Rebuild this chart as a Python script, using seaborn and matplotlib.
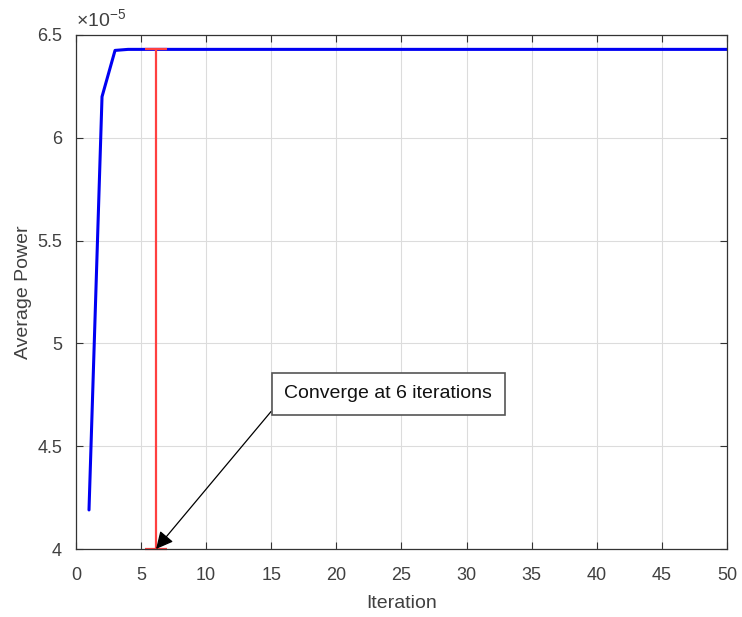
import matplotlib
matplotlib.use("Agg")
import matplotlib.pyplot as plt
import seaborn as sns
import numpy as np
import pandas as pd
from matplotlib.ticker import FuncFormatter

iterations = list(range(1, 51))
avg_power_e5 = [4.19, 6.20, 6.425, 6.43, 6.43, 6.43, 6.43, 6.43, 6.43, 6.43,
                6.43, 6.43, 6.43, 6.43, 6.43, 6.43, 6.43, 6.43, 6.43, 6.43,
                6.43, 6.43, 6.43, 6.43, 6.43, 6.43, 6.43, 6.43, 6.43, 6.43,
                6.43, 6.43, 6.43, 6.43, 6.43, 6.43, 6.43, 6.43, 6.43, 6.43,
                6.43, 6.43, 6.43, 6.43, 6.43, 6.43, 6.43, 6.43, 6.43, 6.43]
converge_iter = 6.15
annotation_text = "Converge at 6 iterations"
x_ticks = [0, 5, 10, 15, 20, 25, 30, 35, 40, 45, 50]
y_ticks_e5 = [4, 4.5, 5, 5.5, 6, 6.5]

df = pd.DataFrame({"Iteration": iterations,
                   "Power": np.array(avg_power_e5) * 1e-5})

sns.set_theme(style="whitegrid")
plt.rcParams['font.family'] = ['Liberation Sans', 'DejaVu Sans']
plt.rcParams['mathtext.fontset'] = 'custom'
plt.rcParams['mathtext.rm'] = 'Liberation Sans'
plt.rcParams['mathtext.it'] = 'Liberation Sans'

txt_color = '#404040'

fig = plt.figure(figsize=(7.42, 6.17), dpi=100)
ax = fig.add_axes([0.1024, 0.1102, 0.8774, 0.8331])

sns.lineplot(data=df, x="Iteration", y="Power", ax=ax, color=(0.0, 0.0, 0.95),
             linewidth=2.2)

ymin, ymax = 4e-5, 6.5e-5
top_val = avg_power_e5[-1] * 1e-5
ax.errorbar([converge_iter], [(ymin + top_val) / 2], yerr=[(top_val - ymin) / 2],
            color=(1.0, 0.25, 0.25), capsize=8, elinewidth=1.6, capthick=1.6, fmt='none',
            clip_on=False)

ax.annotate(annotation_text, xy=(converge_iter, ymin), xytext=(16.0, 4.754e-5),
            fontsize=14, ha='left', va='center', color='#111111',
            bbox=dict(boxstyle='square,pad=0.65', fc='white', ec='#555555', lw=1.2),
            arrowprops=dict(arrowstyle='-|>', color='black', lw=0.9,
                            mutation_scale=26, shrinkA=0, shrinkB=0,
                            relpos=(0, 0.4)))

ax.set_xlim(0, 50)
ax.set_ylim(ymin, ymax)
ax.set_xticks(x_ticks)
ax.set_yticks(np.array(y_ticks_e5) * 1e-5)
ax.yaxis.set_major_formatter(FuncFormatter(lambda v, p: "%g" % round(v * 1e5, 3)))
ax.text(0.0, 1.01, r"$\times 10^{-5}$", transform=ax.transAxes, fontsize=14,
        color=txt_color, ha='left', va='bottom')

ax.set_xlabel("Iteration", fontsize=14, color=txt_color, labelpad=8)
ax.set_ylabel("Average Power", fontsize=14, color=txt_color, labelpad=4)
ax.tick_params(axis='both', labelsize=13, labelcolor=txt_color, direction='in',
               length=5, color='#333333', top=True, right=True, left=True, bottom=True,
               width=0.8)
ax.tick_params(axis='x', pad=13)
ax.tick_params(axis='y', pad=10)
ax.grid(True, color='#dcdcdc', linewidth=0.8)
for s in ax.spines.values():
    s.set_color('#333333')
    s.set_linewidth(0.9)
ax.set_facecolor('white')

fig.savefig("out.png", dpi=100)
